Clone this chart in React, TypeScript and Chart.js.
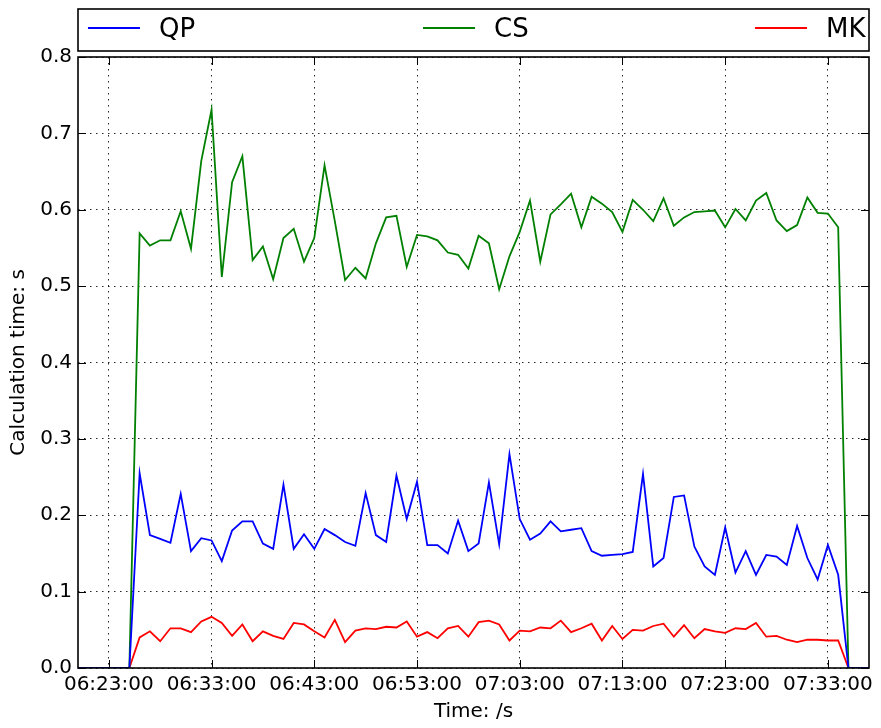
import React, { useEffect, useRef } from "react";
import { Chart, registerables } from "chart.js";

Chart.register(...registerables);

// Sample times (one per minute)
const times = [
  "06:20", "06:21", "06:22", "06:23", "06:24", "06:25", "06:26", "06:27", "06:28", "06:29",
  "06:30", "06:31", "06:32", "06:33", "06:34", "06:35", "06:36", "06:37", "06:38", "06:39",
  "06:40", "06:41", "06:42", "06:43", "06:44", "06:45", "06:46", "06:47", "06:48", "06:49",
  "06:50", "06:51", "06:52", "06:53", "06:54", "06:55", "06:56", "06:57", "06:58", "06:59",
  "07:00", "07:01", "07:02", "07:03", "07:04", "07:05", "07:06", "07:07", "07:08", "07:09",
  "07:10", "07:11", "07:12", "07:13", "07:14", "07:15", "07:16", "07:17", "07:18", "07:19",
  "07:20", "07:21", "07:22", "07:23", "07:24", "07:25", "07:26", "07:27", "07:28", "07:29",
  "07:30", "07:31", "07:32", "07:33", "07:34", "07:35", "07:36", "07:37",
];

const qp = [
  0, 0, 0, 0, 0, 0, 0.255, 0.174, 0.169, 0.164,
  0.228, 0.153, 0.170, 0.167, 0.140, 0.180, 0.192, 0.192, 0.163, 0.156,
  0.240, 0.156, 0.175, 0.156, 0.182, 0.174, 0.165, 0.160, 0.229, 0.174,
  0.165, 0.252, 0.195, 0.244, 0.161, 0.161, 0.150, 0.193, 0.153, 0.163,
  0.243, 0.162, 0.280, 0.195, 0.168, 0.176, 0.192, 0.179, 0.181, 0.183,
  0.153, 0.147, 0.148, 0.149, 0.152, 0.254, 0.133, 0.144, 0.224, 0.226,
  0.159, 0.133, 0.122, 0.184, 0.125, 0.153, 0.122, 0.148, 0.146, 0.135,
  0.186, 0.144, 0.116, 0.161, 0.122, 0, 0, 0,
];

const cs = [
  0, 0, 0, 0, 0, 0, 0.569, 0.553, 0.560, 0.560,
  0.598, 0.549, 0.664, 0.731, 0.512, 0.636, 0.670, 0.534, 0.552, 0.509,
  0.563, 0.575, 0.532, 0.563, 0.658, 0.585, 0.508, 0.524, 0.510, 0.556,
  0.590, 0.592, 0.525, 0.567, 0.565, 0.560, 0.544, 0.541, 0.523, 0.566,
  0.556, 0.496, 0.539, 0.571, 0.612, 0.532, 0.594, 0.607, 0.621, 0.577,
  0.617, 0.608, 0.597, 0.571, 0.613, 0.600, 0.585, 0.615, 0.579, 0.590,
  0.597, 0.598, 0.599, 0.577, 0.601, 0.586, 0.612, 0.622, 0.586, 0.572,
  0.580, 0.616, 0.596, 0.595, 0.577, 0, 0, 0,
];

const mk = [
  0, 0, 0, 0, 0, 0, 0.040, 0.048, 0.035, 0.052,
  0.052, 0.047, 0.061, 0.067, 0.059, 0.042, 0.057, 0.035, 0.048, 0.042,
  0.038, 0.059, 0.057, 0.048, 0.040, 0.063, 0.034, 0.049, 0.052, 0.051,
  0.054, 0.053, 0.061, 0.041, 0.047, 0.039, 0.052, 0.055, 0.041, 0.060,
  0.062, 0.057, 0.036, 0.049, 0.048, 0.053, 0.052, 0.062, 0.047, 0.052,
  0.058, 0.036, 0.055, 0.038, 0.050, 0.049, 0.055, 0.058, 0.041, 0.056,
  0.039, 0.051, 0.048, 0.046, 0.052, 0.051, 0.059, 0.041, 0.042, 0.037,
  0.034, 0.037, 0.037, 0.036, 0.036, 0, 0, 0,
];

const xTickLabels = [
  "06:23:00", "06:33:00", "06:43:00", "06:53:00",
  "07:03:00", "07:13:00", "07:23:00", "07:33:00",
];

const seriesNames = ["QP", "CS", "MK"];
const seriesColors = ["#0000ff", "#008000", "#ff0000"];

const FONT = "'DejaVu Sans', 'Liberation Sans', sans-serif";

function toMinutes(t: string): number {
  const [h, m, s] = t.split(":").map(Number);
  return h * 60 + m + (s || 0) / 60 - 6 * 60 - 20;
}

const xTickValues = xTickLabels.map(toMinutes);

const framePlugin = {
  id: "mplFrame",
  afterDatasetsDraw(chart: any) {
    const { ctx, chartArea } = chart;
    const { left, right, top, bottom } = chartArea;
    const xs = chart.scales.x;
    const ys = chart.scales.y;
    const tl = 8;
    ctx.save();
    ctx.strokeStyle = "#000";
    ctx.lineWidth = 1;
    ctx.beginPath();
    xs.ticks.forEach((t: any) => {
      const px = Math.round(xs.getPixelForValue(t.value)) + 0.5;
      ctx.moveTo(px, bottom);
      ctx.lineTo(px, bottom - tl);
      ctx.moveTo(px, top);
      ctx.lineTo(px, top + tl);
    });
    ys.ticks.forEach((t: any) => {
      const py = Math.round(ys.getPixelForValue(t.value)) + 0.5;
      ctx.moveTo(left, py);
      ctx.lineTo(left + tl, py);
      ctx.moveTo(right, py);
      ctx.lineTo(right - tl, py);
    });
    ctx.stroke();
    ctx.lineWidth = 1.6;
    ctx.strokeRect(left, top, right - left, bottom - top);
    ctx.restore();
  },
};

const legendPlugin = {
  id: "mplLegend",
  afterDraw(chart: any) {
    const { ctx, chartArea } = chart;
    const { left, right } = chartArea;
    const boxTop = 9;
    const boxBottom = 51;
    ctx.save();
    ctx.fillStyle = "#fff";
    ctx.fillRect(left, boxTop, right - left, boxBottom - boxTop);
    ctx.strokeStyle = "#000";
    ctx.lineWidth = 1.6;
    ctx.strokeRect(left, boxTop, right - left, boxBottom - boxTop);
    const starts = [0.0126, 0.4362, 0.8559];
    const lineLen = 52;
    const cy = 29;
    ctx.font = `26px ${FONT}`;
    ctx.textBaseline = "middle";
    ctx.textAlign = "left";
    chart.data.datasets.forEach((ds: any, i: number) => {
      const x0 = left + starts[i] * (right - left);
      ctx.strokeStyle = ds.borderColor;
      ctx.lineWidth = 1.8;
      ctx.beginPath();
      ctx.moveTo(x0, cy - 1);
      ctx.lineTo(x0 + lineLen, cy - 1);
      ctx.stroke();
      ctx.fillStyle = "#000";
      ctx.fillText(ds.label, x0 + lineLen + 19, cy + 1);
    });
    ctx.restore();
  },
};

export default function App() {
  const ref = useRef<HTMLCanvasElement | null>(null);

  useEffect(() => {
    if (!ref.current) return;
    const mins = times.map(toMinutes);
    const series = [qp, cs, mk];
    const chart = new Chart(ref.current, {
      type: "line",
      data: {
        datasets: series.map((vals, i) => ({
          label: seriesNames[i],
          data: vals.map((v, j) => ({ x: mins[j], y: v })),
          borderColor: seriesColors[i],
          backgroundColor: seriesColors[i],
          borderWidth: 1.8,
          pointRadius: 0,
          tension: 0,
          fill: false,
        })),
      },
      options: {
        animation: false,
        responsive: false,
        devicePixelRatio: 1,
        events: [],
        layout: { padding: { top: 57, right: 12, left: 0, bottom: 0 } },
        plugins: {
          legend: { display: false },
          tooltip: { enabled: false },
        },
        scales: {
          x: {
            type: "linear",
            min: mins[0],
            max: mins[mins.length - 1],
            afterBuildTicks: (axis: any) => {
              axis.ticks = xTickValues.map((v) => ({ value: v }));
            },
            afterFit: (scale: any) => {
              scale.height = 60;
            },
            ticks: {
              autoSkip: false,
              maxRotation: 0,
              padding: 5,
              color: "#000",
              font: { family: FONT, size: 20 },
              callback: (value: any) => {
                const idx = xTickValues.findIndex((v) => Math.abs(v - value) < 1e-6);
                return idx >= 0 ? xTickLabels[idx] : "";
              },
            },
            grid: {
              color: "rgba(0,0,0,0.85)",
              lineWidth: 1,
              drawTicks: false,
            },
            border: { display: false, dash: [1.5, 4.5] },
            title: {
              display: true,
              text: "Time: /s",
              color: "#000",
              font: { family: FONT, size: 20 },
              padding: { top: 0, bottom: 4 },
            },
          },
          y: {
            type: "linear",
            min: 0,
            max: 0.8,
            afterFit: (scale: any) => {
              scale.width = 78;
            },
            ticks: {
              stepSize: 0.1,
              padding: 6,
              color: "#000",
              font: { family: FONT, size: 20 },
              callback: (value: any) => Number(value).toFixed(1),
            },
            grid: {
              color: "rgba(0,0,0,0.85)",
              lineWidth: 1,
              drawTicks: false,
            },
            border: { display: false, dash: [1.5, 4.5] },
            title: {
              display: true,
              text: "Calculation time: s",
              color: "#000",
              font: { family: FONT, size: 20 },
              padding: { top: 7, bottom: 0 },
            },
          },
        },
      },
      plugins: [framePlugin, legendPlugin],
    });
    return () => chart.destroy();
  }, []);

  return (
    <div style={{ position: "absolute", left: 0, top: 0, width: 881, height: 728, background: "#fff" }}>
      <canvas ref={ref} width={881} height={728} style={{ display: "block" }} />
    </div>
  );
}
